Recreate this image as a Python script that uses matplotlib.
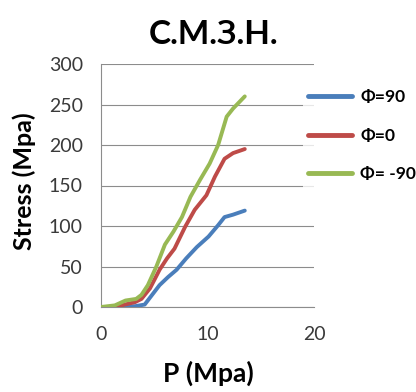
import matplotlib
matplotlib.use("Agg")
import matplotlib.pyplot as plt

title = "С.М.З.Н."
x_label = "P (Mpa)"
y_label = "Stress (Mpa)"

p_green = [0, 1.3, 2.3, 3.3, 3.8, 4.4, 5.2, 6.0, 6.8, 7.6, 8.4, 9.3, 10.2, 11.0, 11.8, 12.4, 13.5]
s_green = [0, 2, 8, 10, 15, 27, 50, 77, 93, 111, 136, 157, 177, 200, 235, 245, 260]

p_red = [0.9, 1.9, 3.2, 3.8, 4.6, 5.5, 6.2, 6.9, 7.9, 8.8, 9.9, 10.7, 11.6, 12.4, 13.5]
s_red = [0, 2, 6, 10, 23, 46, 60, 72, 99, 120, 138, 161, 183, 190, 195]

p_blue = [1.0, 3.2, 4.1, 4.8, 5.5, 6.3, 7.1, 8.0, 9.0, 10.1, 11.0, 11.6, 12.4, 13.5]
s_blue = [0, 1, 3, 15, 27, 37, 46, 60, 74, 87, 101, 111, 114, 119]

labels = ["Φ=90", "Φ=0", "Φ= -90"]
colors = ["#4A7EBB", "#BE4B48", "#98B954"]

fig = plt.figure(figsize=(4.16, 3.92), dpi=100)
ax = fig.add_axes([101/416, 1-307/392, (314-101)/416, (307-64)/392])

font = "Lato"
l1, = ax.plot(p_blue, s_blue, color=colors[0], lw=2.8, solid_capstyle="round", zorder=3)
l2, = ax.plot(p_red, s_red, color=colors[1], lw=2.8, solid_capstyle="round", zorder=4)
l3, = ax.plot(p_green, s_green, color=colors[2], lw=2.8, solid_capstyle="round", zorder=5)

ax.set_xlim(0, 20)
ax.set_ylim(0, 300)
ax.set_xticks([0, 10, 20])
ax.set_yticks(range(0, 301, 50))
ax.grid(axis="y", color="#8C8C8C", lw=0.8)
ax.set_axisbelow(True)
for s in ["top", "right"]:
    ax.spines[s].set_visible(False)
for s in ["left", "bottom"]:
    ax.spines[s].set_color("#8C8C8C")
    ax.spines[s].set_linewidth(0.8)
ax.tick_params(length=0, labelsize=14, labelcolor="#3A3A3A")
ax.tick_params(axis="y", pad=13)
ax.tick_params(axis="x", pad=14)
for t in ax.get_xticklabels() + ax.get_yticklabels():
    t.set_family(font)

fig.text(214/416, 1-35/392, title, ha="center", va="center", fontsize=24,
         fontweight="bold", family=font)
fig.text(208/416, 1-373/392, x_label, ha="center", va="center", fontsize=19,
         fontweight="bold", family=font)
fig.text(24/416, 1-181/392, y_label, ha="center", va="center", fontsize=18,
         fontweight="bold", family=font, rotation=90)

leg = fig.legend([l1, l2, l3], labels, loc="upper left",
                 bbox_to_anchor=(303/416, 1-84/392),
                 prop={"family": font, "weight": "bold", "size": 12.5},
                 handlelength=2.5, handletextpad=0.5, labelspacing=1.3,
                 frameon=True, fancybox=False, borderpad=0.3, borderaxespad=0)
leg.get_frame().set_facecolor("white")
leg.get_frame().set_edgecolor("none")
for h in leg.legend_handles:
    h.set_linewidth(3.5)

fig.savefig("out.png", dpi=100)
